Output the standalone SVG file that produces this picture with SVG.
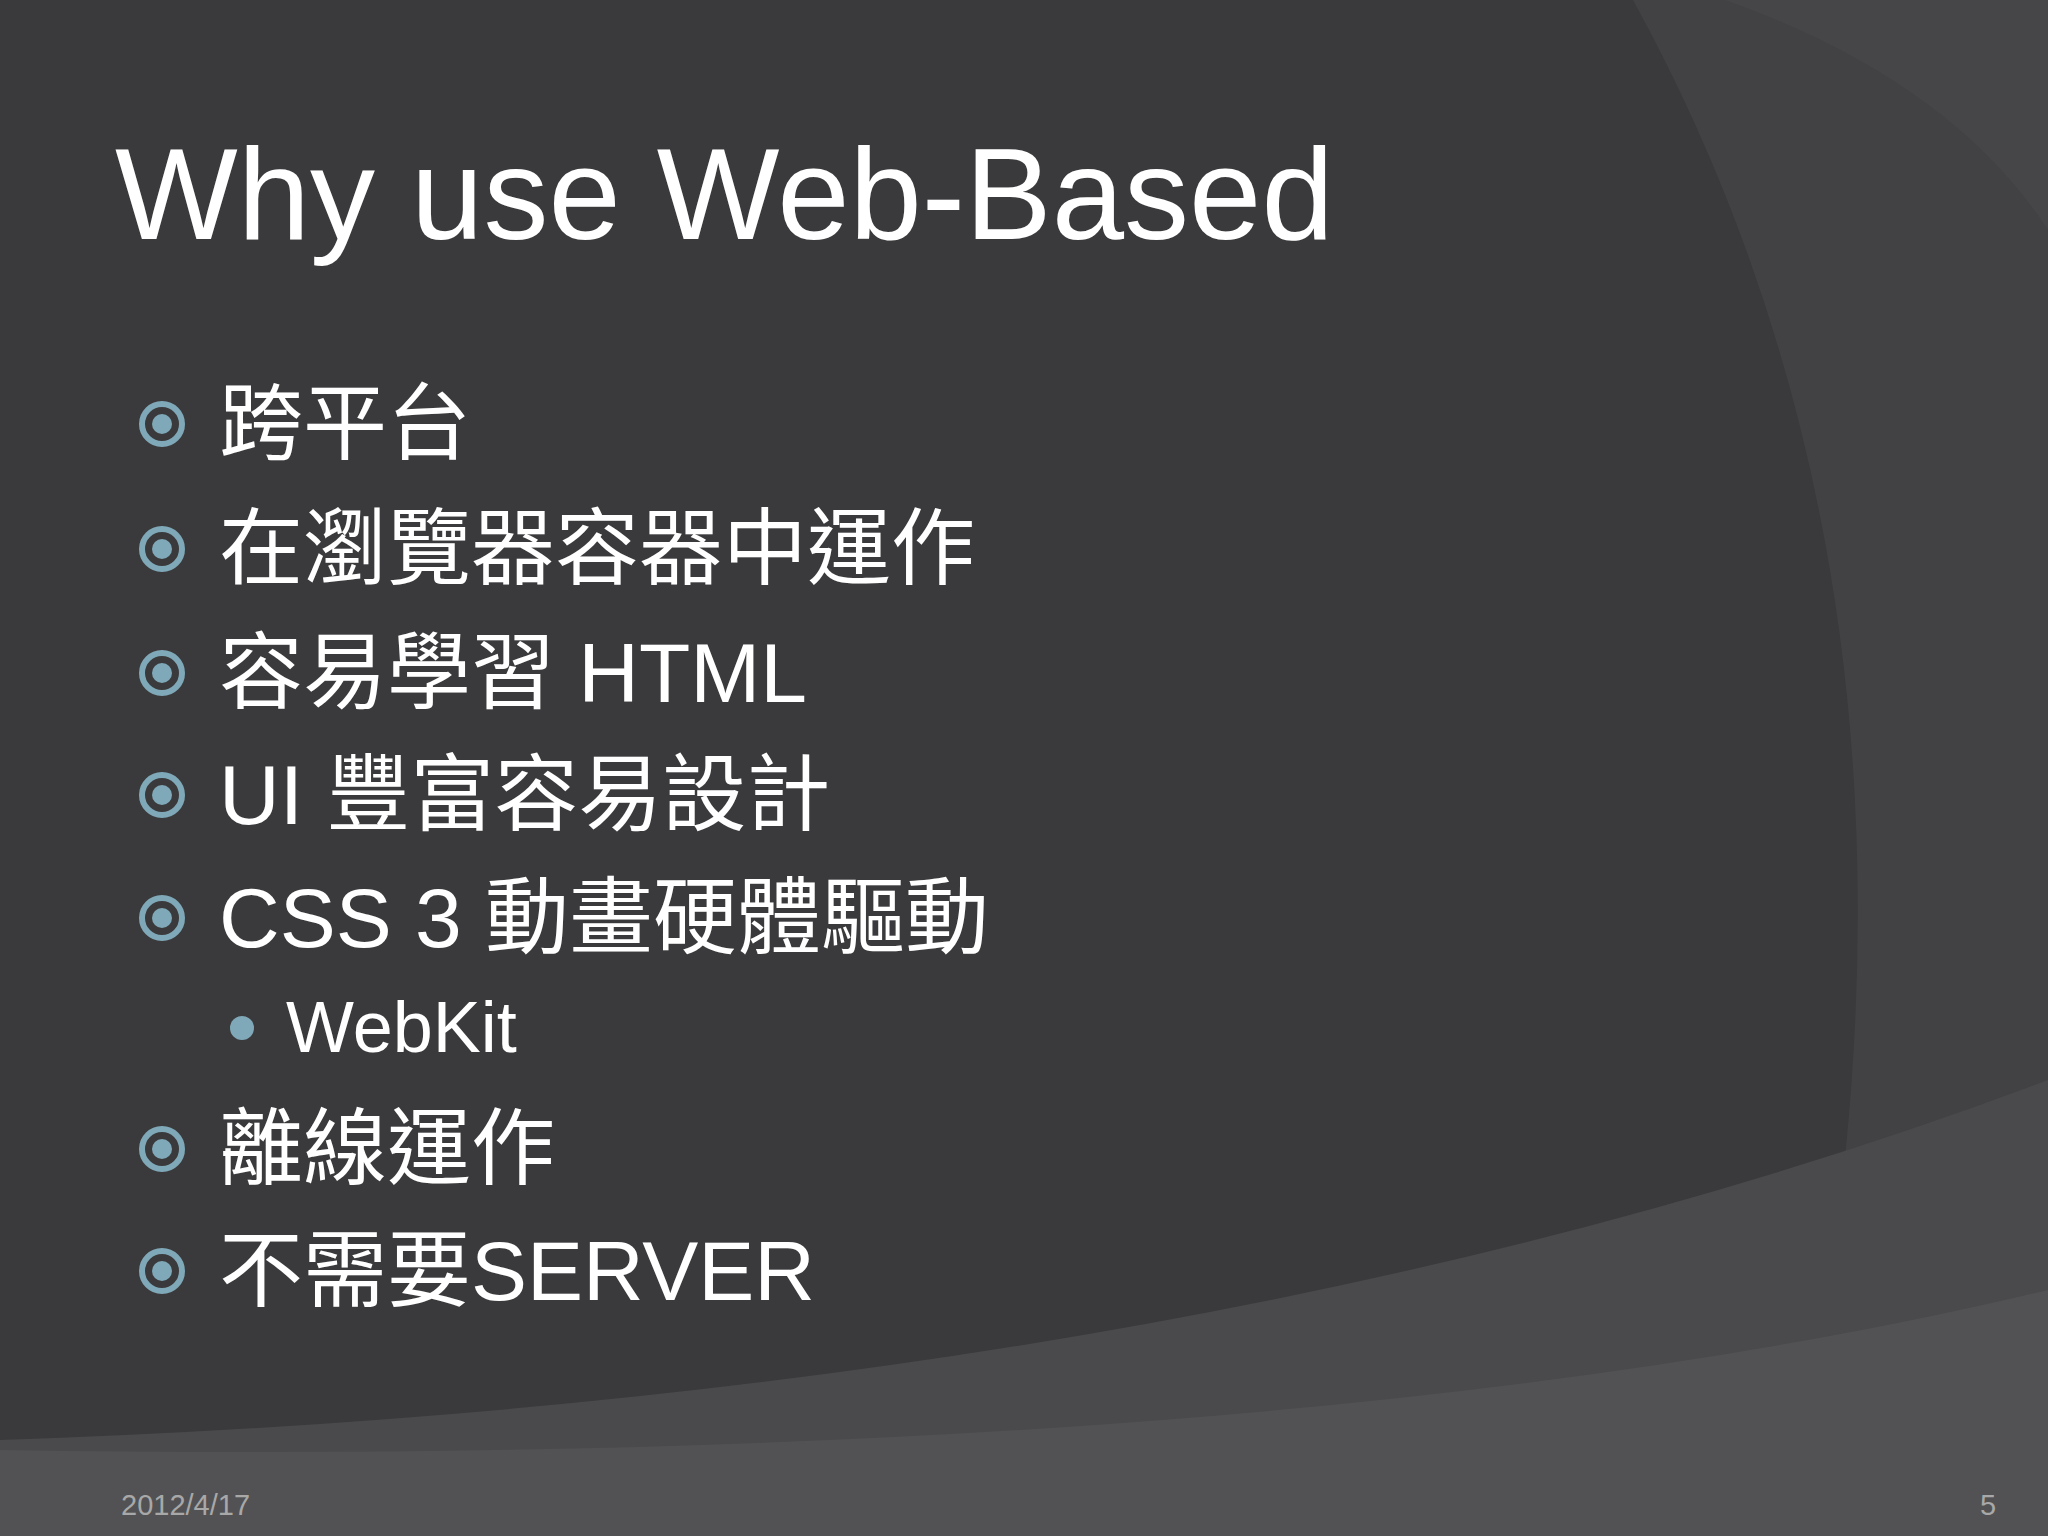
<svg xmlns="http://www.w3.org/2000/svg" width="2048" height="1536" viewBox="0 0 2048 1536">
<style>
.t{font-family:"Liberation Sans","Noto Sans CJK TC",sans-serif;fill:#ffffff}
.b{font-size:84px}
.ring{fill:none;stroke:#7fa9b8;stroke-width:6}
.dot{fill:#7fa9b8}
</style>
<defs>
<g id="bul"><circle class="ring" r="20"/><circle class="dot" r="10"/></g>
</defs>
<rect width="2048" height="1536" fill="#3a3a3c"/>
<path d="M1633,0 Q1990,650 1780,1536 L2048,1536 L2048,0 Z" fill="#424244"/>
<path d="M1725,0 Q1950,80 2048,230 L2048,0 Z" fill="#464648"/>
<path d="M0,1440 Q1200,1400 2048,1080 L2048,1536 L0,1536 Z" fill="#4a4a4c"/>
<path d="M0,1450 Q1300,1470 2048,1290 L2048,1536 L0,1536 Z" fill="#525254"/>
<text class="t" x="115" y="239" font-size="130">Why use Web-Based</text>
<g id="items">
<use href="#bul" x="162" y="424"/><text class="t b" x="219" y="453">跨平台</text>
<use href="#bul" x="162" y="549"/><text class="t b" x="219" y="578">在瀏覽器容器中運作</text>
<use href="#bul" x="162" y="673"/><text class="t b" x="219" y="702">容易學習 HTML</text>
<use href="#bul" x="162" y="795"/><text class="t b" x="219" y="824">UI 豐富容易設計</text>
<use href="#bul" x="162" y="918"/><text class="t b" x="219" y="947">CSS 3 動畫硬體驅動</text>
<circle class="dot" cx="242" cy="1028" r="12"/><text class="t" x="286" y="1052" font-size="72">WebKit</text>
<use href="#bul" x="162" y="1149"/><text class="t b" x="219" y="1178">離線運作</text>
<use href="#bul" x="162" y="1271"/><text class="t b" x="219" y="1300">不需要SERVER</text>
</g>
<text x="121" y="1515" font-size="29" fill="#a8a8a8" font-family="Liberation Sans,sans-serif">2012/4/17</text>
<text x="1980" y="1515" font-size="29" fill="#a8a8a8" font-family="Liberation Sans,sans-serif">5</text>
</svg>
